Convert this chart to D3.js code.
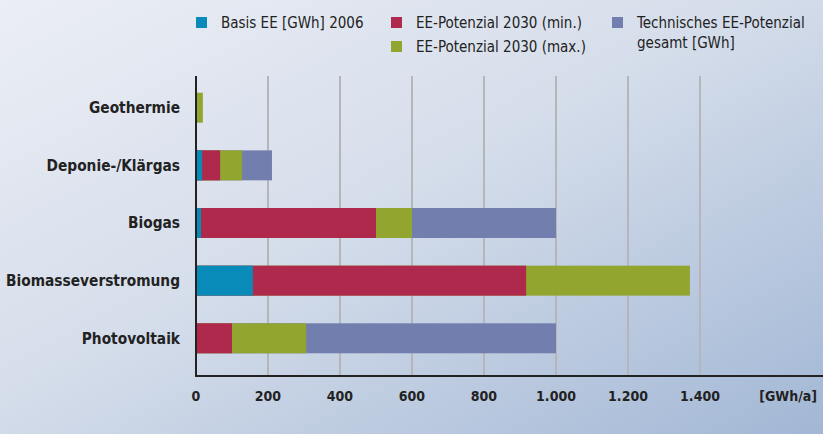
<!DOCTYPE html>
<html>
<head>
<meta charset="utf-8">
<script src="https://cdn.jsdelivr.net/npm/d3@7"></script>
<style>
  body { margin: 0; }
  svg { display: block; }
</style>
</head>
<body>
<div id="chart"></div>
<script>
// categories top to bottom
let categories = ["Geothermie", "Deponie-/Klärgas", "Biogas", "Biomasseverstromung", "Photovoltaik"];

// values in GWh/a, bars are overlaid (each series is a total, not an increment)
let basis2006 = [0, 17, 14, 158, 0];
let min2030 = [0, 67, 500, 917, 100];
let max2030 = [19, 128, 600, 1372, 306];
let technisch = [0, 211, 1000, 0, 1000];

let ticks = [0, 200, 400, 600, 800, 1000, 1200, 1400];

let series = [
    { name: "Technisches EE-Potenzial", values: technisch, color: "#727fae" },
    { name: "EE-Potenzial 2030 (max.)", values: max2030, color: "#91a52f" },
    { name: "EE-Potenzial 2030 (min.)", values: min2030, color: "#af294d" },
    { name: "Basis EE [GWh] 2006", values: basis2006, color: "#088bb8" }
];

let width = 823;
let height = 434;
let margin = ({ top: 76, right: 123, bottom: 58, left: 196 });
let font = "'Liberation Sans Narrow', 'DejaVu Sans Condensed', sans-serif";

let x = d3.scaleLinear()
    .domain([0, 1400])
    .range([margin.left, width - margin.right]);

let y = d3.scaleBand()
    .domain(categories)
    .range([margin.top, height - margin.bottom - 6])
    .paddingInner(0.48)
    .paddingOuter(0.29);

let svg = d3.select("#chart")
    .append("svg")
    .attr("width", width)
    .attr("height", height)
    .attr("viewBox", [0, 0, width, height]);

let grad = svg.append("defs").append("linearGradient")
    .attr("id", "bg")
    .attr("x1", 0).attr("y1", 0)
    .attr("x2", 1).attr("y2", 1);
grad.append("stop").attr("offset", "0%").attr("stop-color", "#ebeef5");
grad.append("stop").attr("offset", "45%").attr("stop-color", "#d6deeb");
grad.append("stop").attr("offset", "100%").attr("stop-color", "#a2b7d5");

svg.append("rect")
    .attr("width", width)
    .attr("height", height)
    .attr("fill", "url(#bg)");

// grid
svg.append("g")
    .selectAll("line")
    .data(ticks.slice(1))
    .join("line")
    .attr("x1", d => x(d))
    .attr("x2", d => x(d))
    .attr("y1", margin.top)
    .attr("y2", height - margin.bottom)
    .attr("stroke", "#b4b6ba")
    .attr("stroke-width", 2);

// bars
series.forEach(s => {
    svg.append("g")
        .attr("fill", s.color)
        .selectAll("rect")
        .data(categories.map((c, i) => ({ cat: c, v: s.values[i] })).filter(d => d.v > 0))
        .join("rect")
        .attr("x", x(0))
        .attr("y", d => y(d.cat))
        .attr("width", d => x(d.v) - x(0))
        .attr("height", y.bandwidth());
});

// axes
svg.append("line")
    .attr("x1", x(0)).attr("x2", x(0))
    .attr("y1", margin.top).attr("y2", height - margin.bottom + 1)
    .attr("stroke", "#222")
    .attr("stroke-width", 2);

svg.append("line")
    .attr("x1", x(0) - 1).attr("x2", width)
    .attr("y1", height - margin.bottom).attr("y2", height - margin.bottom)
    .attr("stroke", "#222")
    .attr("stroke-width", 2);

let fmt = d3.formatLocale({ decimal: ",", thousands: ".", grouping: [3], currency: ["", ""] }).format(",");

svg.append("g")
    .attr("font-family", font)
    .attr("font-weight", "bold")
    .attr("font-size", 14)
    .attr("fill", "#222")
    .attr("text-anchor", "middle")
    .selectAll("text")
    .data(ticks)
    .join("text")
    .attr("x", d => x(d))
    .attr("y", height - margin.bottom + 25)
    .text(d => fmt(d));

svg.append("text")
    .attr("x", 817)
    .attr("y", height - margin.bottom + 25)
    .attr("text-anchor", "end")
    .attr("font-family", font)
    .attr("font-weight", "bold")
    .attr("font-size", 14)
    .attr("fill", "#222")
    .text("[GWh/a]");

// category labels
svg.append("g")
    .attr("font-family", font)
    .attr("font-weight", "bold")
    .attr("font-size", 15.3)
    .attr("fill", "#222")
    .attr("text-anchor", "end")
    .selectAll("text")
    .data(categories)
    .join("text")
    .attr("x", 180)
    .attr("y", d => y(d) + y.bandwidth() / 2)
    .attr("dy", "0.35em")
    .text(d => d);

// legend
let legend = [
    { label: ["Basis EE [GWh] 2006"], color: "#088bb8", x: 196, y: 23 },
    { label: ["EE-Potenzial 2030 (min.)"], color: "#af294d", x: 391, y: 23 },
    { label: ["EE-Potenzial 2030 (max.)"], color: "#91a52f", x: 391, y: 47 },
    { label: ["Technisches EE-Potenzial", "gesamt [GWh]"], color: "#727fae", x: 612, y: 23 }
];

let lg = svg.append("g")
    .attr("font-family", font)
    .attr("font-size", 15)
    .attr("fill", "#222")
    .selectAll("g")
    .data(legend)
    .join("g")
    .attr("transform", d => `translate(${d.x},${d.y})`);

lg.append("rect")
    .attr("x", 0).attr("y", -6)
    .attr("width", 11).attr("height", 11)
    .attr("fill", d => d.color);

lg.append("text")
    .attr("x", 25)
    .attr("dy", "0.35em")
    .selectAll("tspan")
    .data(d => d.label)
    .join("tspan")
    .attr("x", 25)
    .attr("dy", (d, i) => i === 0 ? "0.35em" : 20)
    .text(d => d);
</script>
</body>
</html>
